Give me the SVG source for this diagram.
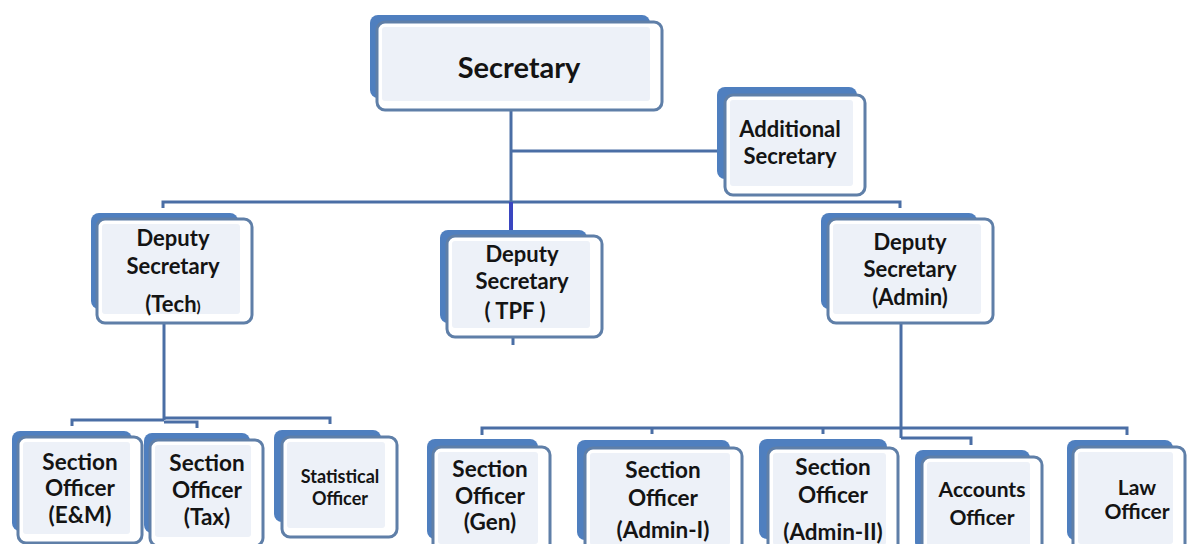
<svg xmlns="http://www.w3.org/2000/svg" width="1187" height="544" viewBox="0 0 1187 544">
<style>
.back{fill:#4f7fbf}
.front{fill:#ffffff;stroke:#5f7fa8;stroke-width:3}
.inner{fill:#edf1f8}
.t{font-family:Lato,"Open Sans","Liberation Sans",sans-serif;font-weight:bold;fill:#141414;text-anchor:middle}
.c{fill:none;stroke:#4a6ea5;stroke-width:3}
.cd{fill:none;stroke:#3a46c0;stroke-width:4}
</style>
<rect width="1187" height="544" fill="#ffffff"/>
<g id="connectors">
<path class="c" d="M511 110 V202"/>
<path class="c" d="M511 151 H726"/>
<path class="c" d="M163 208 V202 H900 V208"/>
<path class="cd" d="M511 202 V232"/>
<path class="c" d="M164 323 V420"/>
<path class="c" d="M72 426 V420 H164"/>
<path class="c" d="M164 422 H197 V428"/>
<path class="c" d="M164 418 H330 V424"/>
<path class="c" d="M513 337 V345"/>
<path class="c" d="M901 323 V438"/>
<path class="c" d="M482 435 V428 H1127 V435"/>
<path class="c" d="M652 428 V434"/>
<path class="c" d="M823 428 V434"/>
<path class="c" d="M901 438 H971 V445"/>
</g>
<g id="secretary">
<rect class="back" x="370" y="15" width="280" height="83" rx="8"/>
<rect class="front" x="377" y="22" width="285" height="88" rx="8"/>
<rect class="inner" x="382" y="27" width="268" height="74" rx="3"/>
<text class="t" x="519" y="78" font-size="29">Secretary</text>
</g>
<g id="additional-secretary">
<rect class="back" x="717" y="87" width="140" height="92" rx="8"/>
<rect class="front" x="725" y="95" width="140" height="100" rx="8"/>
<rect class="inner" x="730" y="100" width="123" height="86" rx="3"/>
<text class="t" x="790" y="137" font-size="22">Additional</text>
<text class="t" x="790" y="164" font-size="22">Secretary</text>
</g>
<g id="deputy-tech">
<rect class="back" x="91" y="213" width="147" height="96" rx="8"/>
<rect class="front" x="97" y="219" width="155" height="104" rx="8"/>
<rect class="inner" x="102" y="224" width="138" height="90" rx="3"/>
<text class="t" x="173" y="246" font-size="22">Deputy</text>
<text class="t" x="173" y="274" font-size="22">Secretary</text>
<text class="t" x="173" y="312" font-size="22">(Tech<tspan font-size="15">)</tspan></text>
</g>
<g id="deputy-tpf">
<rect class="back" x="440" y="230" width="147" height="93" rx="8"/>
<rect class="front" x="447" y="236" width="155" height="101" rx="8"/>
<rect class="inner" x="452" y="241" width="138" height="87" rx="3"/>
<text class="t" x="522" y="262" font-size="22">Deputy</text>
<text class="t" x="522" y="289" font-size="22">Secretary</text>
<text class="t" x="515" y="319" font-size="22">( TPF )</text>
</g>
<g id="deputy-admin">
<rect class="back" x="821" y="213" width="156" height="96" rx="8"/>
<rect class="front" x="828" y="219" width="165" height="104" rx="8"/>
<rect class="inner" x="833" y="224" width="148" height="90" rx="3"/>
<text class="t" x="910" y="250" font-size="22">Deputy</text>
<text class="t" x="910" y="277" font-size="22">Secretary</text>
<text class="t" x="910" y="305" font-size="22">(Admin)</text>
</g>
<g id="so-em">
<rect class="back" x="12" y="431" width="120" height="100" rx="8"/>
<rect class="front" x="18" y="437" width="124" height="106" rx="8"/>
<rect class="inner" x="23" y="442" width="107" height="92" rx="3"/>
<text class="t" x="80" y="470" font-size="22.5">Section</text>
<text class="t" x="80" y="496" font-size="22.5">Officer</text>
<text class="t" x="80" y="523" font-size="22.5">(E&amp;M)</text>
</g>
<g id="so-tax">
<rect class="back" x="144" y="433" width="106" height="100" rx="8"/>
<rect class="front" x="150" y="440" width="113" height="106" rx="8"/>
<rect class="inner" x="155" y="445" width="96" height="92" rx="3"/>
<text class="t" x="207" y="471" font-size="22.5">Section</text>
<text class="t" x="207" y="498" font-size="22.5">Officer</text>
<text class="t" x="207" y="525" font-size="22.5">(Tax)</text>
</g>
<g id="statistical-officer">
<rect class="back" x="274" y="430" width="107" height="92" rx="8"/>
<rect class="front" x="282" y="437" width="115" height="100" rx="8"/>
<rect class="inner" x="287" y="442" width="98" height="86" rx="3"/>
<text class="t" x="340" y="483" font-size="18">Statistical</text>
<text class="t" x="340" y="505" font-size="18">Officer</text>
</g>
<g id="so-gen">
<rect class="back" x="427" y="439" width="111" height="100" rx="8"/>
<rect class="front" x="433" y="447" width="117" height="106" rx="8"/>
<rect class="inner" x="438" y="452" width="100" height="92" rx="3"/>
<text class="t" x="490" y="477" font-size="22.5">Section</text>
<text class="t" x="490" y="504" font-size="22.5">Officer</text>
<text class="t" x="490" y="530" font-size="22.5">(Gen)</text>
</g>
<g id="so-admin-1">
<rect class="back" x="577" y="440" width="153" height="100" rx="8"/>
<rect class="front" x="585" y="448" width="157" height="106" rx="8"/>
<rect class="inner" x="590" y="453" width="140" height="92" rx="3"/>
<text class="t" x="663" y="478" font-size="22.5">Section</text>
<text class="t" x="663" y="506" font-size="22.5">Officer</text>
<text class="t" x="663" y="538" font-size="22.5">(Admin-I)</text>
</g>
<g id="so-admin-2">
<rect class="back" x="759" y="439" width="128" height="100" rx="8"/>
<rect class="front" x="768" y="448" width="130" height="106" rx="8"/>
<rect class="inner" x="773" y="453" width="113" height="92" rx="3"/>
<text class="t" x="833" y="475" font-size="22.5">Section</text>
<text class="t" x="833" y="503" font-size="22.5">Officer</text>
<text class="t" x="833" y="540" font-size="22.5">(Admin-II)</text>
</g>
<g id="accounts-officer">
<rect class="back" x="915" y="450" width="115" height="100" rx="8"/>
<rect class="front" x="922" y="457" width="120" height="106" rx="8"/>
<rect class="inner" x="927" y="462" width="103" height="92" rx="3"/>
<text class="t" x="982" y="497" font-size="21">Accounts</text>
<text class="t" x="982" y="525" font-size="21">Officer</text>
</g>
<g id="law-officer">
<rect class="back" x="1067" y="440" width="106" height="100" rx="8"/>
<rect class="front" x="1073" y="447" width="112" height="106" rx="8"/>
<rect class="inner" x="1078" y="452" width="95" height="92" rx="3"/>
<text class="t" x="1137" y="495" font-size="21">Law</text>
<text class="t" x="1137" y="519" font-size="21">Officer</text>
</g>
</svg>
